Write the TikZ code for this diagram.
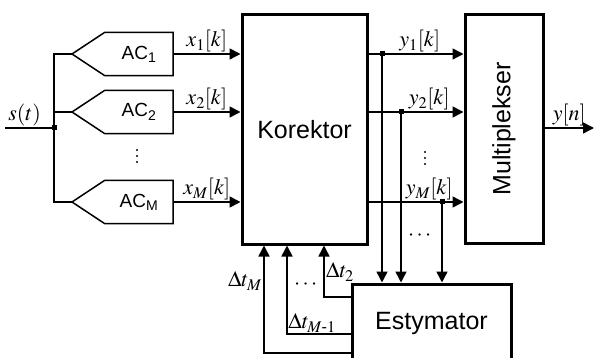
\documentclass[tikz,border=0pt]{standalone}
\usepackage{amsmath}
\usepackage{mathptmx}
\usepackage[no-math]{fontspec}
\setmainfont{Liberation Sans}
\usetikzlibrary{arrows.meta,positioning,calc}

\tikzset{
  blk/.style={draw,line width=3pt,inner sep=0pt,font=\fontsize{25}{28}\selectfont},
  conv/.style={inner sep=0pt,minimum width=68pt,minimum height=43pt,font=\fontsize{19}{22}\selectfont},
  wire/.style={line width=1.5pt},
  arr/.style={wire,-{Triangle[length=11pt,width=11pt]}},
  jdot/.style={fill,inner sep=0pt,minimum size=5pt},
  lbl/.style={inner sep=1pt,font=\fontsize{22}{24}\selectfont},
}

\begin{document}
\begin{tikzpicture}[x=1pt,y=-1pt]
	\useasboundingbox (0,0) rectangle (594,358);
	\clip (0,0) rectangle (594,358);

	% main blocks
	\node[blk,minimum width=125pt,minimum height=229pt] (kor) at (304.5,129.5) {Korektor};
	\node[blk,minimum width=78pt,minimum height=228pt] (mux) at (504,129) {};
	\node[rotate=90,font=\fontsize{25}{28}\selectfont] (muxtxt) at (mux.center) {Multiplekser};
	\node[blk,minimum width=159pt,minimum height=78pt] (est) at (431.5,323) {Estymator};

	% converters
	\coordinate (in) at (5,128);
	\node[jdot] (sj) at (54,128) {};
	\draw[wire] (in) -- (sj.center) node[lbl,pos=0.4,above] {$s(t)$};
	\foreach \i/\y in {1/54,2/112,M/202} {
		\node[conv] (ac\i) at (139,\y) {AC\textsubscript{\i}};
		\coordinate (tip\i) at (72,\y);
		\draw[wire] (ac\i.north west) -- (ac\i.north east) -- (ac\i.south east)
			-- (ac\i.south west) -- (tip\i) -- cycle;
		\draw[wire] (tip\i) -| (sj.center);
		\draw[arr] (ac\i.east) -- (ac\i -| kor.west) node[lbl,midway,above] {$x_{\i}[k]$};
	}
	\foreach \d in {150,156,162} {
		\fill (137,\d) circle (1.1pt);
		\fill (425,\d+2) circle (1.1pt);
	}

	% corrected outputs
	\foreach \i/\x/\p in {1/382/0.54,2/401/0.64,M/442/0.64} {
		\draw[arr] (ac\i -| kor.east) -- (ac\i -| mux.west) node[lbl,pos=\p,above] {$y_{\i}[k]$};
		\node[jdot] (yj\i) at (ac\i -| \x,0) {};
		\draw[arr] (yj\i.center) -- (yj\i |- est.north);
	}
	\node[lbl] (hd1) at (421,236) {$\cdots$};
	\coordinate (out) at (594,128);
	\draw[arr] (mux.east |- out) -- (out) node[lbl,midway,above] {$y[n]$};

	% estimates fed back
	\coordinate (f2) at (324,297);
	\coordinate (f3) at (287,334);
	\coordinate (f4) at (264,353);
	\foreach \c in {f2,f3,f4}
		\draw[arr] (\c -| est.west) -- (\c) -- (\c |- kor.south);
	\node[lbl,anchor=west] (d2) at (325,272) {$\Delta t_2$};
	\node[lbl] (d3) at (312,323) {$\Delta t_{M\text{-}1}$};
	\node[lbl,anchor=east] (d4) at (263,281) {$\Delta t_M$};
	\node[lbl] (hd2) at (307,285) {$\cdots$};
\end{tikzpicture}
\end{document}
